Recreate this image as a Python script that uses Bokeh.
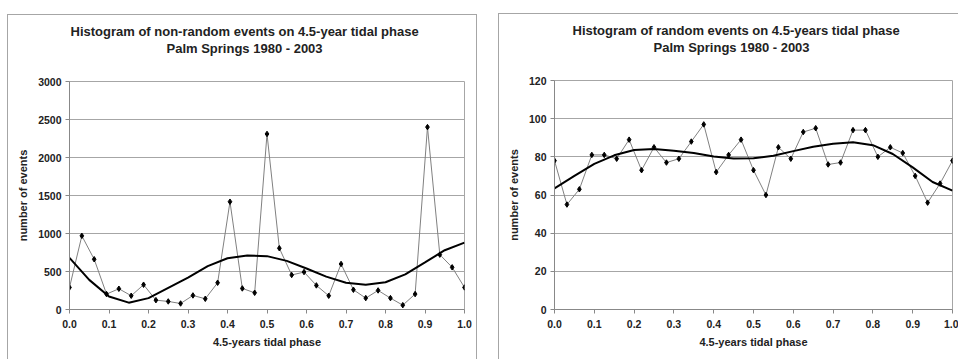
from bokeh.plotting import figure
from bokeh.layouts import row
from bokeh.models import Title, FixedTicker, Range1d, NumeralTickFormatter
from bokeh.embed import file_html
from bokeh.resources import INLINE

# ---- data ----
phase = [i / 32 for i in range(34)]  # bin phases (last one wraps past 1.0)
nonrandom_events = [290, 969, 661, 203, 273, 181, 326, 123, 106, 79, 185, 141,
                    352, 1418, 277, 220, 2310, 806, 454, 493, 317, 181, 599,
                    260, 150, 251, 150, 57, 203, 2400, 722, 555, 290, 969]
random_events = [78, 55, 63, 81, 81, 79, 89, 73, 85, 77, 79, 88, 97, 72, 81,
                 89, 73, 60, 85, 79, 93, 95, 76, 77, 94, 94, 80, 85, 82, 70,
                 56, 66, 78, 55]

trend_phase = [i / 20 for i in range(21)]
trend_nonrandom = [680, 390, 172, 90, 150, 285, 420, 570, 675, 710, 702, 640,
                   540, 432, 352, 326, 358, 462, 620, 780, 880]
trend_random = [63.5, 70, 76.3, 80.8, 83.6, 84.1, 83.2, 82, 80.2, 79.1, 79.2,
                80.6, 83, 85.3, 86.8, 87.7, 86.1, 81.5, 74.5, 66.8, 62.3]

x_ticks = [0.0, 0.1, 0.2, 0.3, 0.4, 0.5, 0.6, 0.7, 0.8, 0.9, 1.0]
left_yticks = [0, 500, 1000, 1500, 2000, 2500, 3000]
right_yticks = [0, 20, 40, 60, 80, 100, 120]

left_title = ["Histogram of non-random events on 4.5-year tidal phase", "Palm Springs 1980 - 2003"]
right_title = ["Histogram of random events on 4.5-years tidal phase", "Palm Springs 1980 - 2003"]
x_label = "4.5-years tidal phase"
y_label = "number of events"

FONT = "Liberation Sans"
GRID = "#a6a6a6"


def make_chart(titles, values, trend, yticks, ymax, width, height, mb, title_offsets, margin, styles):
    p = figure(width=width, height=height, output_backend="svg", toolbar_location=None,
               x_range=Range1d(0, 1), y_range=Range1d(0, ymax),
               min_border_left=mb[0], min_border_right=mb[1],
               min_border_top=mb[2], min_border_bottom=mb[3],
               title=None, margin=margin)
    p.styles = styles
    p.outline_line_color = GRID
    p.background_fill_color = "white"
    p.border_fill_color = "white"

    # spacer next to the frame, then title line 2, then title line 1
    p.add_layout(Title(text=" ", text_font_size="13px", standoff=9), "above")
    p.add_layout(Title(text=titles[1], align="left", offset=title_offsets[1], standoff=0,
                       text_font=FONT, text_font_size="13px", text_font_style="bold",
                       text_color="#222222"), "above")
    p.add_layout(Title(text=titles[0], align="left", offset=title_offsets[0], standoff=0,
                       text_font=FONT, text_font_size="13px", text_font_style="bold",
                       text_color="#222222"), "above")

    p.xgrid.visible = False
    p.ygrid.grid_line_color = GRID
    p.ygrid.ticker = FixedTicker(ticks=yticks)

    for ax in (p.xaxis, p.yaxis):
        ax.axis_line_color = "#888888"
        ax.major_tick_line_color = "#888888"
        ax.minor_tick_line_color = None
        ax.major_tick_in = 0
        ax.major_tick_out = 4
        ax.major_label_text_font = FONT
        ax.major_label_text_font_size = "10.5px"
        ax.major_label_text_font_style = "bold"
        ax.major_label_text_color = "#222222"
        ax.axis_label_text_font = FONT
        ax.axis_label_text_font_size = "11px"
        ax.axis_label_text_font_style = "bold"
        ax.axis_label_text_color = "#222222"

    p.xaxis.ticker = FixedTicker(ticks=x_ticks)
    p.xaxis.formatter = NumeralTickFormatter(format="0.0")
    p.xaxis.axis_label = x_label
    p.xaxis.major_label_standoff = 6
    p.xaxis.axis_label_standoff = 5

    p.yaxis.ticker = FixedTicker(ticks=yticks)
    p.yaxis.axis_label = y_label
    p.yaxis.major_label_standoff = 4
    p.yaxis.axis_label_standoff = 6

    p.line(phase, values, line_color="#808080", line_width=1)
    p.scatter(phase, values, marker="diamond", size=5.5, fill_color="black", line_color="black")
    p.line(trend_phase, trend, line_color="black", line_width=2)
    return p


left = make_chart(left_title, nonrandom_events, trend_nonrandom, left_yticks, 3000,
                  width=470, height=345, mb=(61, 14, 66, 51), title_offsets=(1, 97),
                  margin=(14, 21, 0, 7),
                  styles={"border-top": "1px solid #a6a6a6", "border-left": "1px solid #a6a6a6",
                          "border-right": "1px solid #a6a6a6"})
right = make_chart(right_title, random_events, trend_random, right_yticks, 120,
                   width=460, height=346, mb=(55, 7, 66, 51), title_offsets=(18, 99),
                   margin=(13, 0, 0, 0),
                   styles={"border-top": "1px solid #a6a6a6", "border-left": "1px solid #a6a6a6"})

layout = row(left, right)
open("out.html", "w").write(file_html(layout, INLINE))
